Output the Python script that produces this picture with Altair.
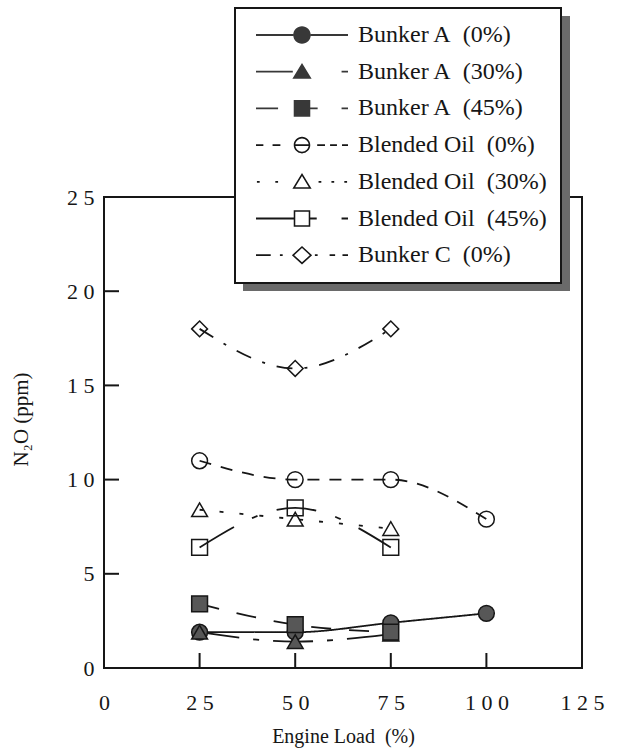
import altair as alt
import pandas as pd

# ---- data -------------------------------------------------------------
series_names = [
    "Bunker A\u00a0 (0%)",
    "Bunker A\u00a0 (30%)",
    "Bunker A\u00a0 (45%)",
    "Blended Oil\u00a0 (0%)",
    "Blended Oil\u00a0 (30%)",
    "Blended Oil\u00a0 (45%)",
    "Bunker C\u00a0 (0%)",
]

load_bunker_a_0 = [25, 50, 75, 100]
n2o_bunker_a_0 = [1.9, 1.9, 2.4, 2.9]

load_bunker_a_30 = [25, 50, 75]
n2o_bunker_a_30 = [1.9, 1.4, 1.8]

load_bunker_a_45 = [25, 50, 75]
n2o_bunker_a_45 = [3.4, 2.3, 1.9]

load_blended_0 = [25, 50, 75, 100]
n2o_blended_0 = [11.0, 10.0, 10.0, 7.9]

load_blended_30 = [25, 50, 75]
n2o_blended_30 = [8.4, 7.9, 7.4]

load_blended_45 = [25, 50, 75]
n2o_blended_45 = [6.4, 8.5, 6.4]

load_bunker_c_0 = [25, 50, 75]
n2o_bunker_c_0 = [18.0, 15.9, 18.0]

x_ticks = [0, 25, 50, 75, 100, 125]
y_ticks = [0, 5, 10, 15, 20, 25]

series_data = [
    (load_bunker_a_0, n2o_bunker_a_0),
    (load_bunker_a_30, n2o_bunker_a_30),
    (load_bunker_a_45, n2o_bunker_a_45),
    (load_blended_0, n2o_blended_0),
    (load_blended_30, n2o_blended_30),
    (load_blended_45, n2o_blended_45),
    (load_bunker_c_0, n2o_bunker_c_0),
]

rows = []
for name, (loads, values) in zip(series_names, series_data):
    for load, value in zip(loads, values):
        rows.append({"series": name, "load": load, "n2o": value})
df = pd.DataFrame(rows)

x_tick_df = pd.DataFrame({"load": x_ticks[1:-1]})
y_tick_df = pd.DataFrame({"n2o": y_ticks[1:-1]})

# ---- styles -----------------------------------------------------------
INK = "#161616"
GRAY_FILL = "#575757"
SERIF = "Liberation Serif"

dash_patterns = [
    [1, 0],            # solid
    [40, 14, 6, 14],   # long dash - short dash
    [20, 18],          # long dashes
    [12, 10],          # dashes
    [4, 16],           # dots
    [40, 20, 6, 20],   # long dash - short dash
    [16, 12, 3, 12],   # dash-dot
]
marker_shapes = ["circle", "triangle-up", "square", "circle",
                 "triangle-up", "square", "diamond"]
marker_fills = [GRAY_FILL, GRAY_FILL, GRAY_FILL,
                "transparent", "transparent", "transparent", "transparent"]
legend_fills = ["#383838", "#383838", "#383838", INK, INK, INK, INK]

# ---- legend glyphs ------------------------------------------------------
# Each glyph is a line sample with its marker in the middle, built only
# from filled outlines (symbol units: one unit = half the symbol width).
LW = 0.02    # half thickness of a line sample
OW = 0.034   # outline width of an open marker


def fmt(v):
    return f"{v:.4f}".rstrip("0").rstrip(".")


def poly(points):
    head = f"M{fmt(points[0][0])},{fmt(points[0][1])}"
    return head + "".join(f"L{fmt(x)},{fmt(y)}" for x, y in points[1:]) + "Z"


def bar(a, b):
    return poly([(a, -LW), (b, -LW), (b, LW), (a, LW)])


def disc(r, sweep=1):
    return (f"M{fmt(r)},0A{fmt(r)},{fmt(r)} 0 1,{sweep} {fmt(-r)},0"
            f"A{fmt(r)},{fmt(r)} 0 1,{sweep} {fmt(r)},0Z")


def ring(r):
    return disc(r, 1) + disc(r - OW, 0)


def tri_pts(r):
    return [(0, -r), (1.1 * r, 0.8 * r), (-1.1 * r, 0.8 * r)]


def square_pts(r):
    return [(-r, -r), (r, -r), (r, r), (-r, r)]


def diamond_pts(r):
    return [(0, -r), (1.1 * r, 0), (0, r), (-1.1 * r, 0)]


def outline(points):
    # outer contour plus a reversed inner contour shrunk toward the incenter
    n = len(points)
    sides = [((points[(i + 1) % n][0] - points[i][0]) ** 2
              + (points[(i + 1) % n][1] - points[i][1]) ** 2) ** 0.5
             for i in range(n)]
    area = 0.5 * abs(sum(points[i][0] * points[(i + 1) % n][1]
                         - points[(i + 1) % n][0] * points[i][1]
                         for i in range(n)))
    inradius = 2 * area / sum(sides)
    if n == 3:
        a, b, c = sides[1], sides[2], sides[0]
        cx = (a * points[0][0] + b * points[1][0] + c * points[2][0]) / (a + b + c)
        cy = (a * points[0][1] + b * points[1][1] + c * points[2][1]) / (a + b + c)
    else:
        cx = sum(p[0] for p in points) / n
        cy = sum(p[1] for p in points) / n
    k = 1 - OW / inradius
    inner = [(cx + (x - cx) * k, cy + (y - cy) * k) for x, y in points]
    return poly(points) + poly(inner[::-1])


legend_glyphs = [
    bar(-1, -0.19) + bar(0.19, 1) + disc(0.19),
    bar(-1, -0.2) + poly(tri_pts(0.19)) + bar(0.86, 1),
    bar(-1, -0.52) + poly(square_pts(0.18)) + bar(0.18, 0.34) + bar(0.86, 1),
    bar(-1, -0.84) + bar(-0.64, -0.47) + ring(0.18) + bar(-0.16, 0.16)
    + bar(0.33, 0.5) + bar(0.61, 0.76) + bar(0.87, 1),
    bar(-0.98, -0.92) + bar(-0.58, -0.52) + outline(tri_pts(0.19))
    + bar(0.36, 0.42) + bar(0.64, 0.7) + bar(0.92, 0.98),
    bar(-1, -0.18) + outline(square_pts(0.18)) + bar(0.18, 0.32) + bar(0.86, 1),
    bar(-1, -0.68) + bar(-0.48, -0.42) + outline(diamond_pts(0.2))
    + bar(0.28, 0.34) + bar(0.6, 0.72) + bar(0.88, 1),
]

# ---- scales and axes ----------------------------------------------------
spaced_label = "join(split(datum.label, ''), ' ')"
PLOT_W, PLOT_H = 478, 471
X_MAX, Y_MAX = 125, 25
TICK_LEN = 15   # px

x_scale = alt.Scale(domain=[0, X_MAX], nice=False, zero=False)
y_scale = alt.Scale(domain=[0, Y_MAX], nice=False)

# axes carry labels and titles; the inward ticks are drawn as rules below
x_axis_main = alt.Axis(
    values=x_ticks, ticks=False, tickSize=0, domain=False,
    grid=False, labelExpr=spaced_label, labelFont=SERIF, labelFontSize=22,
    labelColor=INK, labelPadding=24, labelFlush=False,
    title="Engine Load\u00a0 (%)", titleFont=SERIF, titleFontSize=20,
    titleFontWeight="normal", titleColor=INK, titlePadding=13,
)
y_axis_main = alt.Axis(
    values=y_ticks, ticks=False, tickSize=0, domain=False,
    grid=False, labelExpr=spaced_label, labelFont=SERIF, labelFontSize=22,
    labelColor=INK, labelPadding=10, labelFlush=False,
    title="N\u2082O (ppm)", titleFont=SERIF, titleFontSize=21,
    titleFontWeight="normal", titleColor=INK, titlePadding=35, titleY=222,
)

# tick length expressed in data units so the rules go through the scales
x_tick_span = TICK_LEN * Y_MAX / PLOT_H
y_tick_span = TICK_LEN * X_MAX / PLOT_W

x_tick_marks = alt.Chart(x_tick_df).mark_rule(
    color=INK, strokeWidth=2
).encode(
    x=alt.X("load:Q", scale=x_scale, axis=None),
    y=alt.Y(datum=0, scale=y_scale, axis=None),
    y2=alt.Y2(datum=x_tick_span),
)
y_tick_marks = alt.Chart(y_tick_df).mark_rule(
    color=INK, strokeWidth=2
).encode(
    y=alt.Y("n2o:Q", scale=y_scale, axis=None),
    x=alt.X(datum=0, scale=x_scale, axis=None),
    x2=alt.X2(datum=y_tick_span),
)

base = alt.Chart(df)

lines = base.mark_line(
    interpolate="monotone", color=INK, strokeWidth=1.8
).encode(
    x=alt.X("load:Q", scale=x_scale, axis=x_axis_main),
    y=alt.Y("n2o:Q", scale=y_scale, axis=y_axis_main),
    strokeDash=alt.StrokeDash(
        "series:N",
        scale=alt.Scale(domain=series_names, range=dash_patterns),
        legend=None,
    ),
)

points = base.mark_point(
    size=250, opacity=1, stroke=INK, strokeWidth=1.5
).encode(
    x=alt.X("load:Q", scale=x_scale, axis=None),
    y=alt.Y("n2o:Q", scale=y_scale, axis=None),
    shape=alt.Shape(
        "series:N",
        scale=alt.Scale(domain=series_names, range=marker_shapes),
        legend=None,
    ),
    fill=alt.Fill(
        "series:N",
        scale=alt.Scale(domain=series_names, range=marker_fills),
        legend=None,
    ),
)

legend_spec = alt.Legend(
    title=None,
    orient="none",
    legendX=131,
    legendY=-189,
    direction="vertical",
    padding=14,
    fillColor="white",
    strokeColor=INK,
    clipHeight=26,
    rowPadding=10.7,
    symbolSize=8464,
    symbolStrokeWidth=0,
    symbolOffset=7,
    labelOffset=10,
    labelFont=SERIF,
    labelFontSize=24,
    labelColor=INK,
    labelLimit=400,
)

legend_layer = base.transform_filter("false").mark_point(
    opacity=1, strokeWidth=0
).encode(
    x=alt.X("load:Q", scale=x_scale, axis=None),
    y=alt.Y("n2o:Q", scale=y_scale, axis=None),
    shape=alt.Shape(
        "series:N",
        scale=alt.Scale(domain=series_names, range=legend_glyphs),
        legend=legend_spec,
    ),
    fill=alt.Fill(
        "series:N",
        scale=alt.Scale(domain=series_names, range=legend_fills),
        legend=legend_spec,
    ),
)

# drop shadow behind the legend box
legend_shadow = alt.Chart(alt.Data(values=[{}])).mark_rect(
    color="#6a6a6a"
).encode(
    x=alt.value(139), x2=alt.value(466),
    y=alt.value(-181), y2=alt.value(94),
)

chart = (
    alt.layer(legend_shadow, lines, points, legend_layer,
              x_tick_marks, y_tick_marks)
    .resolve_scale(shape="independent", fill="independent")
    .resolve_axis(x="independent", y="independent")
    .properties(
        width=PLOT_W,
        height=PLOT_H,
        autosize=alt.AutoSizeParams(type="none"),
        padding={"left": 104, "top": 197, "right": 36, "bottom": 83},
        background="white",
    )
    .configure_view(stroke=INK, strokeWidth=2)
    .configure_legend(strokeWidth=2)
)

chart.save("out.html", embed_options={"renderer": "svg", "actions": False})
